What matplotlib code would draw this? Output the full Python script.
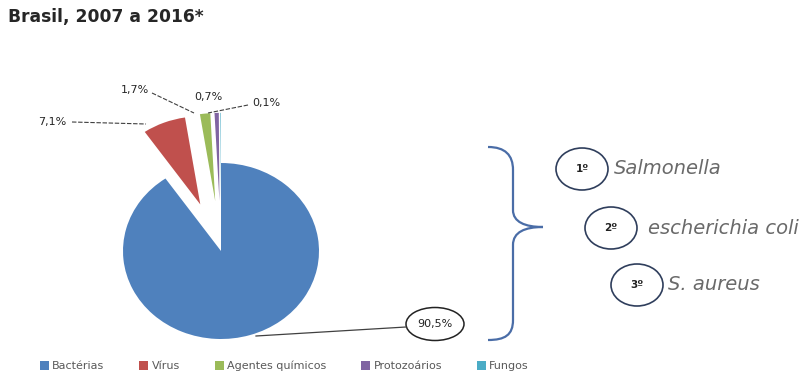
import matplotlib
matplotlib.use("Agg")
import matplotlib.pyplot as plt
from matplotlib.patches import Ellipse, PathPatch
from matplotlib.path import Path

# ---- data ----
title = "Brasil, 2007 a 2016*"
categories = ["Bactérias", "Vírus", "Agentes químicos", "Protozoários", "Fungos"]
values = [90.5, 7.1, 1.7, 0.7, 0.1]
colors = ["#4F81BD", "#C0504D", "#9BBB59", "#8064A2", "#4BACC6"]
ranks = ["1º", "2º", "3º"]
agents = ["Salmonella", "escherichia coli", "S. aureus"]

W, H = 807, 390
fig = plt.figure(figsize=(W / 100, H / 100), dpi=100)

# pie axes: slightly stretched horizontally like the reference
pcx, pcy = 221, 251          # pie centre in pixels (from top)
rx, ry = 98, 88              # horizontal / vertical radius in pixels
pax = fig.add_axes([0, 0, 1, 1])
wedges, _ = pax.pie(values, colors=colors, startangle=90, counterclock=False,
                    explode=[0, 0.57, 0.57, 0.57, 0.57], radius=1,
                    wedgeprops=dict(linewidth=0))
pax.set_aspect("auto")
pax.set_xlim(-pcx / rx, (W - pcx) / rx)
pax.set_ylim(-(H - pcy) / ry, pcy / ry)
pax.axis("off")

ax = fig.add_axes([0, 0, 1, 1])
ax.set_xlim(0, W)
ax.set_ylim(0, H)
ax.axis("off")


def Y(y):
    return H - y


def fmt(v):
    return f"{v:.1f}".replace(".", ",") + "%"


lc = "#404040"
lab = {
    1: ((52, 122), (72, 122), (146, 124)),
    2: ((135, 90), (152, 93), (194, 113)),
    3: ((208, 97), None, None),
    4: ((266, 103), (248, 105), (208, 113)),
}
for i, (tp, p0, p1) in lab.items():
    ax.text(tp[0], Y(tp[1]), fmt(values[i]), fontsize=8, color="#262626",
            ha="center", va="center")
    if p0 is not None:
        ax.plot([p0[0], p1[0]], [Y(p0[1]), Y(p1[1])], color=lc, lw=0.8,
                ls=(0, (4, 1.5)))

# 90,5% label in ellipse
ax.plot([256, 406], [Y(336), Y(327)], color=lc, lw=0.9)
ax.add_patch(Ellipse((435, Y(324)), 58, 33, fill=False, ec="#222222", lw=1.1))
ax.text(435, Y(324), fmt(values[0]), fontsize=8, ha="center", va="center",
        color="#222222")

# brace
verts = [(488, 147), (505, 147), (513, 155), (513, 170),
         (513, 210),
         (513, 222), (525, 227), (543, 227),
         (525, 227), (513, 232), (513, 245),
         (513, 320),
         (513, 335), (505, 340), (488, 340)]
codes = [Path.MOVETO, Path.CURVE4, Path.CURVE4, Path.CURVE4,
         Path.LINETO,
         Path.CURVE4, Path.CURVE4, Path.CURVE4,
         Path.CURVE4, Path.CURVE4, Path.CURVE4,
         Path.LINETO,
         Path.CURVE4, Path.CURVE4, Path.CURVE4]
verts = [(x, Y(y)) for x, y in verts]
ax.add_patch(PathPatch(Path(verts, codes), fill=False, ec="#4A6DA7", lw=1.6))

# ranking
circ = [(582, 169), (611, 228), (637, 285)]
text_x = [614, 648, 668]
for (x, y), tx, r, a in zip(circ, text_x, ranks, agents):
    ax.add_patch(Ellipse((x, Y(y)), 52, 42, fill=False, ec="#2F3E5C", lw=1.2))
    ax.text(x, Y(y), r, fontsize=7.5, ha="center", va="center",
            fontweight="bold", color="#222222")
    ax.text(tx, Y(y), a, fontsize=14, style="italic", ha="left",
            va="center", color="#6A6A6A", family="DejaVu Sans")

# title
ax.text(8, Y(17), title, fontsize=12.3, fontweight="bold", ha="left",
        va="center", color="#262626")

# legend
fig.legend(wedges, categories, loc="center left",
           bbox_to_anchor=(30 / W, 1 - 366 / H),
           ncol=5, frameon=False, fontsize=8, handlelength=0.8,
           handleheight=0.8, handletextpad=0.3, columnspacing=3.15,
           labelcolor="#595959")

fig.savefig("out.png", dpi=100)
